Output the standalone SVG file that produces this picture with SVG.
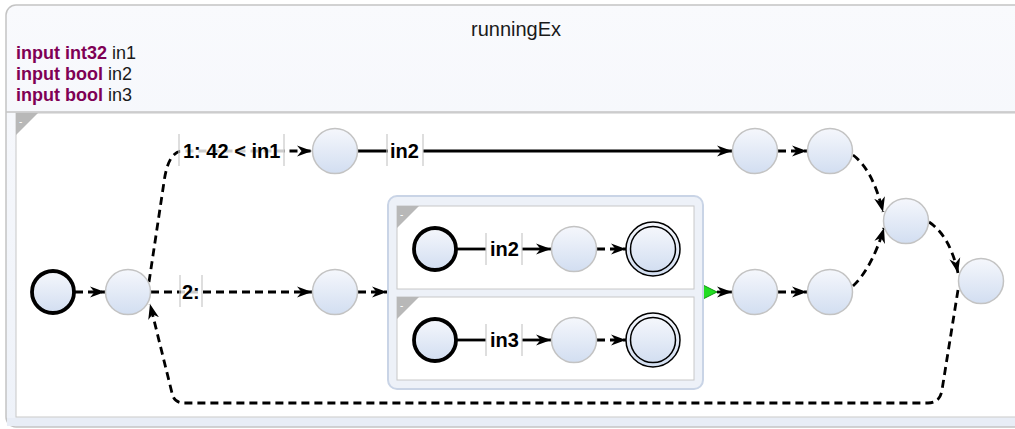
<svg xmlns="http://www.w3.org/2000/svg" width="1015" height="429" viewBox="0 0 1015 429">
<defs>
<linearGradient id="ng" x1="0" y1="0" x2="0" y2="1"><stop offset="0" stop-color="#f5f7fc"/><stop offset="1" stop-color="#d2def1"/></linearGradient>
<linearGradient id="hg" x1="0" y1="0" x2="0" y2="1"><stop offset="0" stop-color="#f9fafd"/><stop offset="1" stop-color="#eef2f9"/></linearGradient>
<marker id="ar" markerUnits="userSpaceOnUse" markerWidth="16" markerHeight="12" refX="15" refY="6" orient="auto" viewBox="0 0 16 12"><path d="M0,0.5 L15,6 L0,11.5 L4.5,6 z" fill="#000"/></marker>
</defs>
<style>
.n{fill:url(#ng);stroke:#c3c3c3;stroke-width:1.5}
.init{fill:url(#ng);stroke:#000;stroke-width:3.8}
.fin{fill:url(#ng);stroke:#000;stroke-width:1.5}
.e{fill:none;stroke:#000;stroke-width:2.8;marker-end:url(#ar)}
.en{fill:none;stroke:#000;stroke-width:2.8}
.d{stroke-dasharray:8 5}
.lb{font-family:"Liberation Sans",Arial,sans-serif;font-weight:bold;font-size:20px;fill:#000}
.bar{stroke:#c8c8c8;stroke-width:1.2}
.lbg{fill:#fff;opacity:0.8}
.kw{font-weight:bold;fill:#7f0055}
.hd{font-family:"Liberation Sans",Arial,sans-serif;font-size:18px;fill:#1a1a1a}
.corner{fill:#b8b8b8}
.cm{font-family:"Liberation Sans",Arial,sans-serif;font-size:10px;fill:#fff}
</style>
<g id="runningEx">
<rect x="6" y="5" width="1030" height="422" rx="10" fill="url(#hg)" stroke="#c4c4c4" stroke-width="1.5"/>
<line x1="6" y1="112" x2="1015" y2="112" stroke="#c4c4c4" stroke-width="1.5"/>
<rect x="16" y="113" width="1020" height="304" fill="#fff" stroke="#c8c8c8" stroke-width="1"/>
<rect x="7" y="418" width="1010" height="8" fill="#e8edf6"/>
<path d="M16,113 L38,113 L16,135 z" class="corner"/>
<text x="19" y="125" class="cm">-</text>
<text x="516" y="36" text-anchor="middle" font-family="Liberation Sans, Arial, sans-serif" font-size="20" fill="#1a1a1a">runningEx</text>
<text x="16" y="59" class="hd"><tspan class="kw">input int32</tspan> in1</text>
<text x="16" y="80" class="hd"><tspan class="kw">input bool</tspan> in2</text>
<text x="16" y="101" class="hd"><tspan class="kw">input bool</tspan> in3</text>
</g>
<g id="connectors">
<path class="e d" d="M75,292 L105,292"/>
<path class="e d" d="M149,282 L164,182 Q168,152 182,151 L312,151"/>
<path class="e d" d="M151,292 L312,292"/>
<path class="e" d="M358,151 L732,151"/>
<path class="e d" d="M358,292 L387,292"/>
<path class="e d" d="M778,151 L807,151"/>
<path class="e d" d="M853,155 Q873,170 883,212"/>
<path class="e d" d="M853,286 Q872,268 884,228"/>
<path class="e" d="M717,292 L732,292"/>
<path d="M703,285 L717,292 L703,299 z" fill="#22dd22" stroke="#119911" stroke-width="1"/>
<path class="e d" d="M778,292 L807,292"/>
<path class="e d" d="M929,222 Q950,236 958,273"/>
<path class="e d" d="M958,290 L942,390 Q940,403 928,403 L184,403 Q174,403 172,393 L150,304"/>
<rect class="lbg" x="180" y="138" width="104" height="26"/>
<line class="bar" x1="179" y1="134" x2="179" y2="166"/>
<line class="bar" x1="284" y1="134" x2="284" y2="166"/>
<text class="lb" x="183" y="158">1: 42 &lt; in1</text>
<rect class="lbg" x="181" y="279" width="21" height="26"/>
<line class="bar" x1="180" y1="275" x2="180" y2="307"/>
<line class="bar" x1="202" y1="275" x2="202" y2="307"/>
<text class="lb" x="182" y="299">2:</text>
<rect x="388" y="138" width="35" height="26" fill="#fff"/>
<line class="bar" x1="387" y1="134" x2="387" y2="166"/>
<line class="bar" x1="423" y1="134" x2="423" y2="166"/>
<text class="lb" x="390" y="158">in2</text>
</g>
<g id="init"><circle class="init" cx="53" cy="292" r="21"/></g>
<g id="s1"><circle class="n" cx="128" cy="292" r="22.5"/></g>
<g id="s2"><circle class="n" cx="335" cy="151" r="22.5"/></g>
<g id="s3"><circle class="n" cx="335" cy="292" r="22.5"/></g>
<g id="s4"><circle class="n" cx="755" cy="151" r="22.5"/></g>
<g id="s5"><circle class="n" cx="830" cy="151" r="22.5"/></g>
<g id="s6"><circle class="n" cx="906" cy="221" r="22.5"/></g>
<g id="s7"><circle class="n" cx="981" cy="281" r="22.5"/></g>
<g id="s8"><circle class="n" cx="755" cy="292" r="22.5"/></g>
<g id="s9"><circle class="n" cx="830" cy="292" r="22.5"/></g>
<g id="macro">
<rect x="388" y="196" width="315" height="193" rx="9" fill="#edf1f8" stroke="#c9d4e6" stroke-width="2"/>
<g id="region1">
<rect x="397" y="206" width="297" height="83" fill="#fff" stroke="#c8c8c8" stroke-width="1"/>
<path d="M397,206 L419,206 L397,228 z" class="corner"/>
<text x="400" y="218" class="cm">-</text>
<path class="en" d="M457,249 L486,249"/>
<path class="e" d="M522,249 L551,249"/>
<path class="e d" d="M597,249 L626,249"/>
<line class="bar" x1="486" y1="233" x2="486" y2="265"/>
<line class="bar" x1="522" y1="233" x2="522" y2="265"/>
<text class="lb" x="490" y="256">in2</text>
<circle class="init" cx="435" cy="249" r="21"/>
<circle class="n" cx="574" cy="249" r="22.5"/>
<circle class="fin" cx="653" cy="249" r="27"/>
<circle class="fin" cx="653" cy="249" r="22.5"/>
</g>
<g id="region2">
<rect x="397" y="297" width="297" height="83" fill="#fff" stroke="#c8c8c8" stroke-width="1"/>
<path d="M397,297 L419,297 L397,319 z" class="corner"/>
<text x="400" y="309" class="cm">-</text>
<path class="en" d="M457,340 L486,340"/>
<path class="e" d="M522,340 L551,340"/>
<path class="e d" d="M597,340 L626,340"/>
<line class="bar" x1="486" y1="324" x2="486" y2="356"/>
<line class="bar" x1="522" y1="324" x2="522" y2="356"/>
<text class="lb" x="490" y="347">in3</text>
<circle class="init" cx="435" cy="340" r="21"/>
<circle class="n" cx="574" cy="340" r="22.5"/>
<circle class="fin" cx="653" cy="340" r="27"/>
<circle class="fin" cx="653" cy="340" r="22.5"/>
</g>
</g>
</svg>
